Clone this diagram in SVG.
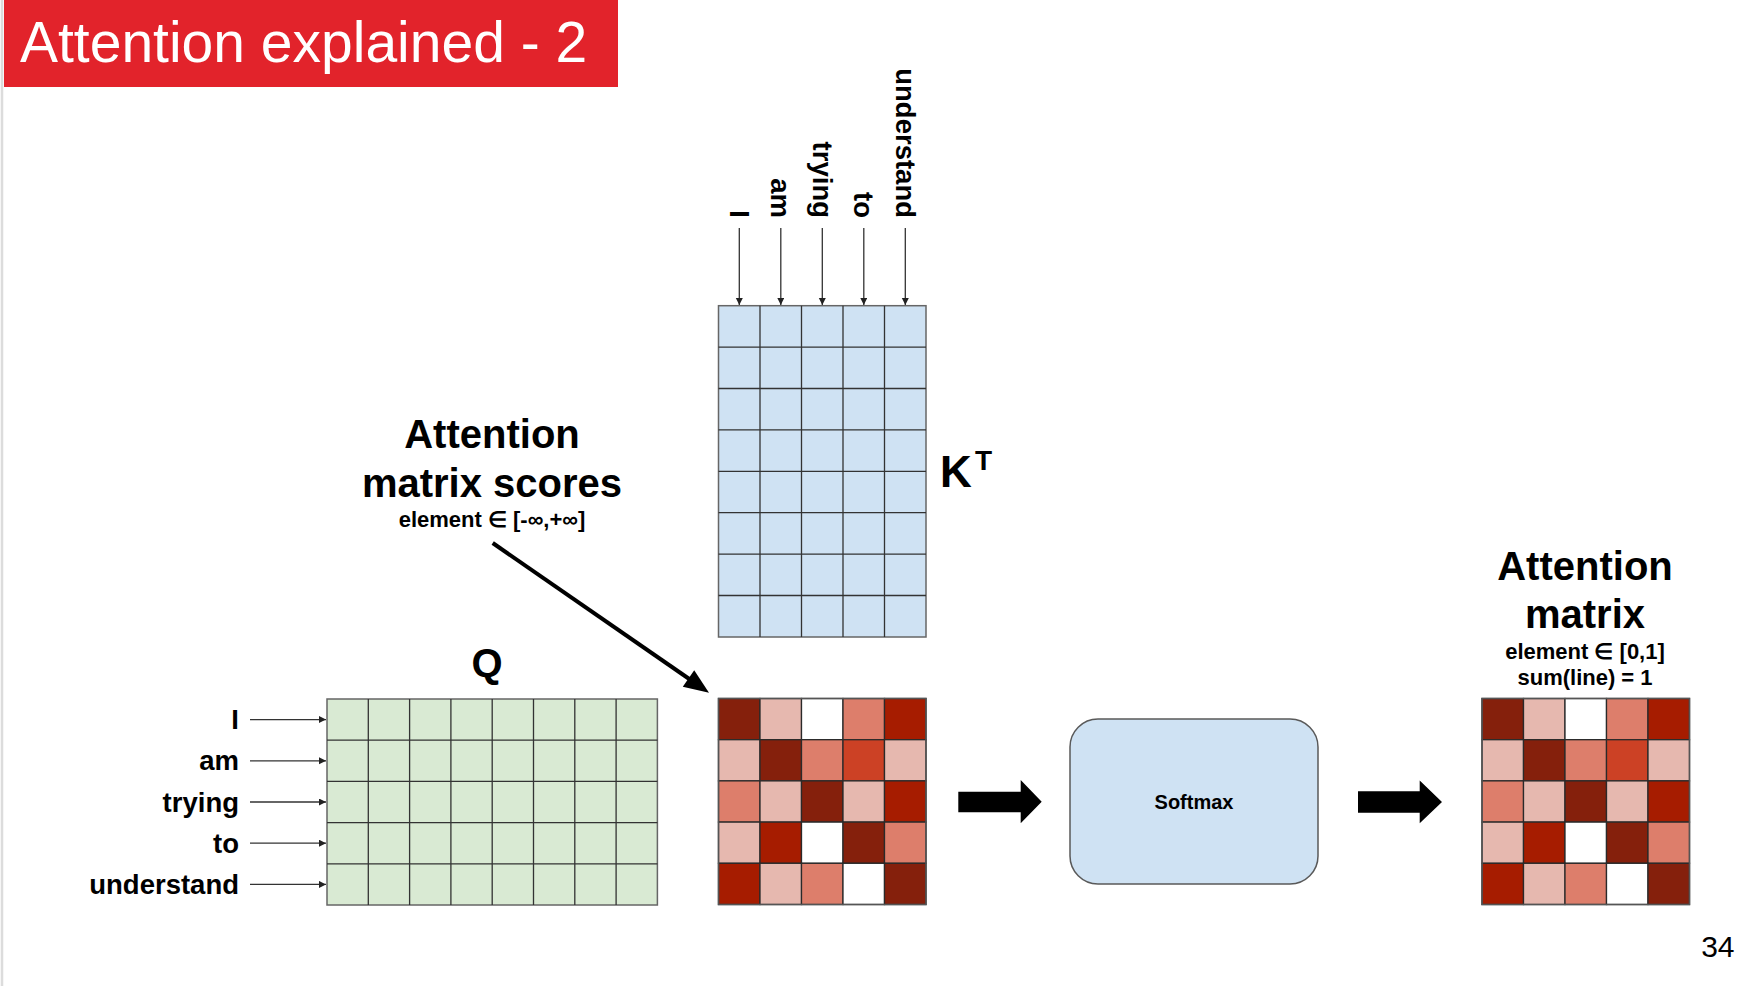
<svg xmlns="http://www.w3.org/2000/svg" xmlns:xlink="http://www.w3.org/1999/xlink" width="1757" height="986" viewBox="0 0 1757 986">
<style>
.bold{font-family:"Liberation Sans",Arial,sans-serif;font-weight:bold;fill:#000}
.big{font-size:40px;text-anchor:middle}
.sub{font-size:22px;text-anchor:middle}
.word{font-size:27.5px}
.thin{stroke:#333;stroke-width:1.3;fill:none}
.outer{stroke:#666;stroke-width:1.5}
.cell{stroke:#2a2a2a;stroke-width:1.3}
.conn{stroke:#333;stroke-width:1.3;fill:none}
</style>
<defs>
<marker id="sm" markerUnits="userSpaceOnUse" markerWidth="8" markerHeight="8" refX="7" refY="3.5" orient="auto">
<path d="M0,0 L7,3.5 L0,7 Z" fill="#222"/>
</marker>
<g id="heat">
<rect class="cell" x="0" y="0" width="41.5" height="41.2" fill="#85200c"/>
<rect class="cell" x="41.5" y="0" width="41.5" height="41.2" fill="#e6b8af"/>
<rect class="cell" x="83" y="0" width="41.5" height="41.2" fill="#ffffff"/>
<rect class="cell" x="124.5" y="0" width="41.5" height="41.2" fill="#dd7e6b"/>
<rect class="cell" x="166" y="0" width="41.5" height="41.2" fill="#a61c00"/>
<rect class="cell" x="0" y="41.2" width="41.5" height="41.2" fill="#e6b8af"/>
<rect class="cell" x="41.5" y="41.2" width="41.5" height="41.2" fill="#85200c"/>
<rect class="cell" x="83" y="41.2" width="41.5" height="41.2" fill="#dd7e6b"/>
<rect class="cell" x="124.5" y="41.2" width="41.5" height="41.2" fill="#cc4125"/>
<rect class="cell" x="166" y="41.2" width="41.5" height="41.2" fill="#e6b8af"/>
<rect class="cell" x="0" y="82.4" width="41.5" height="41.2" fill="#dd7e6b"/>
<rect class="cell" x="41.5" y="82.4" width="41.5" height="41.2" fill="#e6b8af"/>
<rect class="cell" x="83" y="82.4" width="41.5" height="41.2" fill="#85200c"/>
<rect class="cell" x="124.5" y="82.4" width="41.5" height="41.2" fill="#e6b8af"/>
<rect class="cell" x="166" y="82.4" width="41.5" height="41.2" fill="#a61c00"/>
<rect class="cell" x="0" y="123.6" width="41.5" height="41.2" fill="#e6b8af"/>
<rect class="cell" x="41.5" y="123.6" width="41.5" height="41.2" fill="#a61c00"/>
<rect class="cell" x="83" y="123.6" width="41.5" height="41.2" fill="#ffffff"/>
<rect class="cell" x="124.5" y="123.6" width="41.5" height="41.2" fill="#85200c"/>
<rect class="cell" x="166" y="123.6" width="41.5" height="41.2" fill="#dd7e6b"/>
<rect class="cell" x="0" y="164.8" width="41.5" height="41.2" fill="#a61c00"/>
<rect class="cell" x="41.5" y="164.8" width="41.5" height="41.2" fill="#e6b8af"/>
<rect class="cell" x="83" y="164.8" width="41.5" height="41.2" fill="#dd7e6b"/>
<rect class="cell" x="124.5" y="164.8" width="41.5" height="41.2" fill="#ffffff"/>
<rect class="cell" x="166" y="164.8" width="41.5" height="41.2" fill="#85200c"/>
<rect x="0" y="0" width="207.5" height="206" fill="none" stroke="#555" stroke-width="1.5"/>
</g>
</defs>
<rect width="1757" height="986" fill="#ffffff"/>
<line x1="2" y1="0" x2="2" y2="986" stroke="#dcdcdc" stroke-width="2.5"/>
<g id="title">
<rect x="4" y="0" width="614" height="87" fill="#e2232b"/>
<text x="20" y="62" font-family="Liberation Sans, Arial, sans-serif" font-size="57" fill="#ffffff">Attention explained - 2</text>
</g>
<g id="kt-matrix">
<rect class="outer" x="718.5" y="305.7" width="207.5" height="331.3" fill="#cfe2f3"/>
<path class="thin" d="M760,305.7V637M801.5,305.7V637M843,305.7V637M884.5,305.7V637M718.5,347.1H926M718.5,388.5H926M718.5,429.9H926M718.5,471.3H926M718.5,512.7H926M718.5,554.1H926M718.5,595.5H926"/>
<text class="bold" x="940" y="487" font-size="44">K</text>
<text class="bold" x="975" y="470" font-size="28">T</text>
</g>
<g id="kt-labels" class="bold word">
<text transform="translate(729.5,218) rotate(90)" text-anchor="end">I</text>
<text transform="translate(771,218) rotate(90)" text-anchor="end">am</text>
<text transform="translate(812.5,218) rotate(90)" text-anchor="end">trying</text>
<text transform="translate(854,218) rotate(90)" text-anchor="end">to</text>
<text transform="translate(895.5,218) rotate(90)" text-anchor="end">understand</text>
</g>
<g id="q-matrix">
<rect class="outer" x="327" y="699" width="330.4" height="206" fill="#d9ead3"/>
<path class="thin" d="M368.3,699V905M409.6,699V905M450.9,699V905M492.2,699V905M533.5,699V905M574.8,699V905M616.1,699V905M327,740.2H657.4M327,781.4H657.4M327,822.6H657.4M327,863.8H657.4"/>
<text class="bold big" x="487" y="677">Q</text>
</g>
<g id="q-labels" class="bold word" text-anchor="end">
<text x="239" y="729">I</text>
<text x="239" y="770">am</text>
<text x="239" y="811.5">trying</text>
<text x="239" y="852.7">to</text>
<text x="239" y="894">understand</text>
</g>
<g id="scores-label">
<text class="bold big" x="492" y="448">Attention</text>
<text class="bold big" x="492" y="497">matrix scores</text>
<text class="bold sub" x="492" y="527">element ∈ [-∞,+∞]</text>
</g>
<g id="score-matrix">
<use xlink:href="#heat" href="#heat" x="718.5" y="698.5"/>
</g>
<g id="softmax">
<rect x="1070" y="719" width="248" height="165" rx="28" ry="28" fill="#cfe2f3" stroke="#595959" stroke-width="1.5"/>
<text class="bold" x="1194" y="809" font-size="20" text-anchor="middle">Softmax</text>
</g>
<g id="attention-matrix">
<text class="bold big" x="1585" y="580">Attention</text>
<text class="bold big" x="1585" y="628">matrix</text>
<text class="bold sub" x="1585" y="659">element ∈ [0,1]</text>
<text class="bold sub" x="1585" y="685">sum(line) = 1</text>
<use xlink:href="#heat" href="#heat" x="1482" y="698.5"/>
</g>
<g id="connectors">
<line class="conn" x1="739.3" y1="228" x2="739.3" y2="305" marker-end="url(#sm)"/>
<line class="conn" x1="780.8" y1="228" x2="780.8" y2="305" marker-end="url(#sm)"/>
<line class="conn" x1="822.3" y1="228" x2="822.3" y2="305" marker-end="url(#sm)"/>
<line class="conn" x1="863.8" y1="228" x2="863.8" y2="305" marker-end="url(#sm)"/>
<line class="conn" x1="905.3" y1="228" x2="905.3" y2="305" marker-end="url(#sm)"/>
<line class="conn" x1="250" y1="719.6" x2="326" y2="719.6" marker-end="url(#sm)"/>
<line class="conn" x1="250" y1="760.8" x2="326" y2="760.8" marker-end="url(#sm)"/>
<line class="conn" x1="250" y1="802" x2="326" y2="802" marker-end="url(#sm)"/>
<line class="conn" x1="250" y1="843.2" x2="326" y2="843.2" marker-end="url(#sm)"/>
<line class="conn" x1="250" y1="884.4" x2="326" y2="884.4" marker-end="url(#sm)"/>
<line x1="492.7" y1="543" x2="690" y2="679.5" stroke="#000" stroke-width="4"/>
<polygon points="709,692.7 682.8,686.7 694.2,670.3" fill="#000"/>
<polygon points="958.3,791.7 1020.7,791.7 1020.7,780 1041.7,801.8 1020.7,823.3 1020.7,812.3 958.3,812.3" fill="#000"/>
<polygon points="1358,791.2 1419.7,791.2 1419.7,780.5 1442,802 1419.7,823.3 1419.7,812.7 1358,812.7" fill="#000"/>
</g>
<text x="1734.5" y="957" font-family="Liberation Sans, Arial, sans-serif" font-size="30" text-anchor="end" fill="#000">34</text>
</svg>
